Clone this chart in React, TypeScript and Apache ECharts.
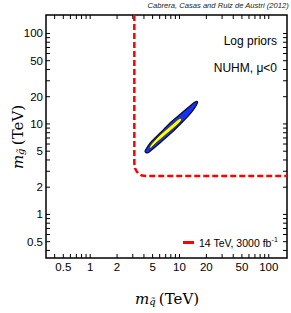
import React, { useEffect, useRef } from 'react';
import * as echarts from 'echarts';

const X_MIN = 0.32;
const X_MAX = 160;
const Y_MIN = 0.33;
const Y_MAX = 160;

const tickValues = [0.4, 0.5, 0.6, 0.7, 0.8, 0.9, 1, 2, 3, 4, 5, 6, 7, 8, 9, 10, 20, 30, 40, 50, 60, 70, 80, 90, 100];
const labelValues = [0.5, 1, 2, 5, 10, 20, 50, 100];
const labelTexts = ['0.5', '1', '2', '5', '10', '20', '50', '100'];

// 14 TeV, 3000 fb^-1 reach (red dashed)
const redX = [3.12, 3.12, 3.17, 3.32, 3.52, 3.8, 4.22, 160];
const redY = [160, 3.7, 3.26, 2.98, 2.8, 2.69, 2.66, 2.66];

// 95% region (blue)
const blueX = [4.22, 4.68, 5.46, 6.54, 7.83, 9.38, 11.23, 13.11, 14.92, 15.91, 15.7, 14.17, 12.13, 10.13, 8.24, 6.71, 5.6, 4.8, 4.44, 4.22, 4.11];
const blueY = [5.28, 6.15, 7.17, 8.56, 10.23, 11.92, 13.88, 15.77, 17.46, 17.68, 16.6, 14.1, 11.8, 9.87, 8.06, 6.75, 5.79, 5.1, 4.8, 4.82, 5.0];

// 68% region (yellow)
const yellowX = [4.68, 5.32, 6.21, 7.43, 8.91, 10.0, 10.53, 10.39, 9.14, 7.63, 6.37, 5.46, 4.92, 4.68];
const yellowY = [5.7, 6.64, 7.73, 9.01, 10.5, 11.47, 11.38, 10.76, 9.48, 8.14, 6.99, 6.15, 5.56, 5.35];

const SANS = '"Liberation Sans", Arial, Helvetica, sans-serif';
const SERIF = '"DejaVu Serif", serif';
const LEGEND_NAME = '14 TeV, 3000 fb-1';

export default function App() {
  const ref = useRef<HTMLDivElement>(null);
  useEffect(() => {
    if (!ref.current) return;
    const chart = echarts.init(ref.current, undefined, { renderer: 'svg' });

    const polygonSeries = (xs: number[], ys: number[], fill: string, stroke: string, lw: number) => ({
      type: 'custom',
      coordinateSystem: 'cartesian2d',
      silent: true,
      data: [[xs[0], ys[0]]],
      renderItem: (_p: any, api: any) => ({
        type: 'polygon',
        shape: { points: xs.map((x, i) => api.coord([x, ys[i]])), smooth: 0.35 },
        style: { fill, stroke, lineWidth: lw },
      }),
    });

    const axisTitleRich = {
      m: { fontFamily: SERIF, fontStyle: 'italic', fontSize: 15, color: '#333' },
      s: { fontFamily: SERIF, fontStyle: 'italic', fontSize: 10, verticalAlign: 'bottom', color: '#333' },
      t: { fontFamily: SERIF, fontSize: 15, color: '#333' },
    };

    chart.setOption({
      animation: false,
      grid: { left: 46, top: 15, width: 241, height: 243, show: true, borderColor: '#000', borderWidth: 1.5, backgroundColor: 'transparent' },
      xAxis: {
        type: 'log', logBase: 10, min: X_MIN, max: X_MAX,
        axisLine: { show: false }, axisTick: { show: false }, axisLabel: { show: false }, splitLine: { show: false },
      },
      yAxis: {
        type: 'log', logBase: 10, min: Y_MIN, max: Y_MAX,
        axisLine: { show: false }, axisTick: { show: false }, axisLabel: { show: false }, splitLine: { show: false },
      },
      legend: {
        data: [{ name: LEGEND_NAME, icon: 'rect' }],
        left: 183, top: 236, padding: 0,
        itemWidth: 11, itemHeight: 3, itemGap: 0,
        itemStyle: { color: '#ff0000', borderWidth: 0 },
        formatter: () => '{a|14 TeV, 3000 fb}{sup|-1}',
        textStyle: {
          rich: {
            a: { fontFamily: SANS, fontSize: 10.5, color: '#000', lineHeight: 13 },
            sup: { fontFamily: SANS, fontSize: 7, color: '#000', verticalAlign: 'top' },
          },
        },
      },
      graphic: [
        { type: 'text', right: 2, top: 1, style: { text: 'Cabrera, Casas and Ruiz de Austri (2012)', font: `italic 7.6px ${SANS}`, fill: '#222' } },
        { type: 'text', x: 277, y: 41, style: { text: 'Log priors', align: 'right', verticalAlign: 'middle', fontFamily: SANS, fontSize: 12, fill: '#000' } },
        { type: 'text', x: 277, y: 68, style: { text: 'NUHM, μ<0', align: 'right', verticalAlign: 'middle', fontFamily: SANS, fontSize: 12, fill: '#000' } },
        { type: 'text', x: 167, y: 299, style: { text: '{m|m}{s|q̃} {t|(TeV)}', align: 'center', verticalAlign: 'middle', rich: axisTitleRich as any } },
        { type: 'text', x: 18, y: 137, rotation: Math.PI / 2, style: { text: '{m|m}{s|g̃} {t|(TeV)}', align: 'center', verticalAlign: 'middle', rich: axisTitleRich as any } },
      ],
      series: [
        polygonSeries(blueX, blueY, '#1432f0', '#0a0a30', 1.2),
        polygonSeries(yellowX, yellowY, '#ffff00', '#333300', 0.8),
        {
          name: LEGEND_NAME,
          type: 'line',
          data: redX.map((x, i) => [x, redY[i]]),
          showSymbol: false,
          symbol: 'none',
          color: '#ff0000',
          lineStyle: { color: '#ff0000', width: 2.5, type: [6, 3] },
        },
        {
          type: 'custom', silent: true,
          data: tickValues.map((v) => [v, Y_MIN]),
          renderItem: (_p: any, api: any) => {
            const v = api.value(0);
            const b = api.coord([v, Y_MIN]);
            const t = api.coord([v, Y_MAX]);
            return {
              type: 'group', children: [
                { type: 'line', shape: { x1: b[0], y1: b[1], x2: b[0], y2: b[1] - 4 }, style: { stroke: '#000', lineWidth: 1 } },
                { type: 'line', shape: { x1: t[0], y1: t[1], x2: t[0], y2: t[1] + 4 }, style: { stroke: '#000', lineWidth: 1 } },
              ],
            };
          },
        },
        {
          type: 'custom', silent: true,
          data: tickValues.map((v) => [X_MIN, v]),
          renderItem: (_p: any, api: any) => {
            const v = api.value(1);
            const l = api.coord([X_MIN, v]);
            const r = api.coord([X_MAX, v]);
            return {
              type: 'group', children: [
                { type: 'line', shape: { x1: l[0], y1: l[1], x2: l[0] + 4, y2: l[1] }, style: { stroke: '#000', lineWidth: 1 } },
                { type: 'line', shape: { x1: r[0], y1: r[1], x2: r[0] - 4, y2: r[1] }, style: { stroke: '#000', lineWidth: 1 } },
              ],
            };
          },
        },
        {
          type: 'custom', silent: true,
          data: labelValues.map((v) => [v, Y_MIN]),
          renderItem: (p: any, api: any) => {
            const b = api.coord([api.value(0), Y_MIN]);
            return { type: 'text', x: b[0], y: b[1] + 9, style: { text: labelTexts[p.dataIndex], align: 'center', verticalAlign: 'middle', fontFamily: SANS, fontSize: 11.5, fill: '#000' } };
          },
        },
        {
          type: 'custom', silent: true,
          data: labelValues.map((v) => [X_MIN, v]),
          renderItem: (p: any, api: any) => {
            const l = api.coord([X_MIN, api.value(1)]);
            return { type: 'text', x: l[0] - 3, y: l[1], style: { text: labelTexts[p.dataIndex], align: 'right', verticalAlign: 'middle', fontFamily: SANS, fontSize: 11.5, fill: '#000' } };
          },
        },
      ],
    });
    return () => chart.dispose();
  }, []);
  return <div ref={ref} style={{ position: 'fixed', left: 0, top: 0, width: 291, height: 313, background: '#fff' }} />;
}
